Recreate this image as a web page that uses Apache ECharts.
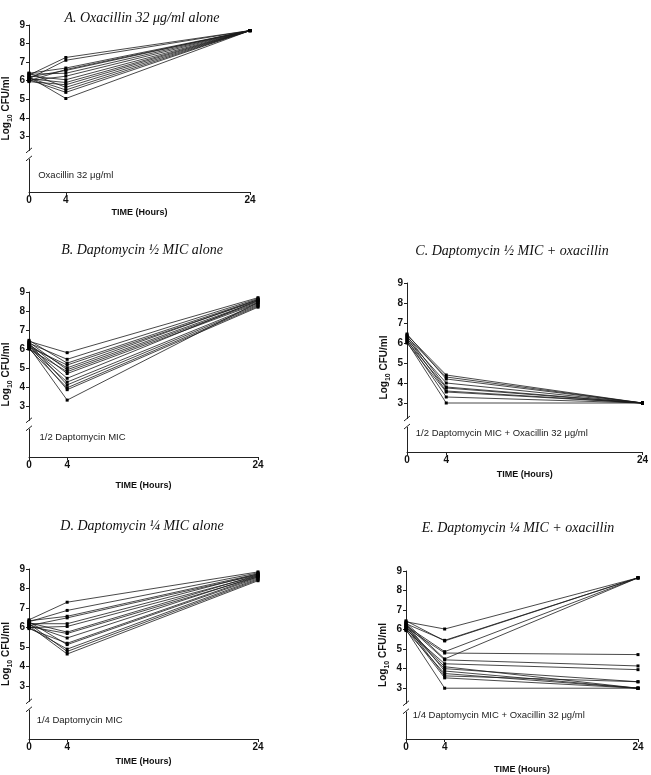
<!DOCTYPE html>
<html><head><meta charset="utf-8">
<script src="https://cdn.jsdelivr.net/npm/echarts@6/dist/echarts.min.js"></script>
<style>html,body{margin:0;padding:0;background:#fff}#c{width:651px;height:775px}</style>
</head><body><div id="c"></div>
<script>
// ---------- DATA ----------
const timesH = [0, 4, 24];
const xTickLabels = [0, 4, 24];
const yTickLabels = [3, 4, 5, 6, 7, 8, 9];
const panelTitles = [
  'A. Oxacillin 32 \u03bcg/ml alone',
  'B. Daptomycin \u00bd MIC alone',
  'C. Daptomycin \u00bd MIC + oxacillin',
  'D. Daptomycin \u00bc MIC alone',
  'E. Daptomycin \u00bc MIC + oxacillin'
];
const panelNotes = [
  'Oxacillin 32 \u03bcg/ml',
  '1/2 Daptomycin MIC',
  '1/2 Daptomycin MIC + Oxacillin 32 \u03bcg/ml',
  '1/4 Daptomycin MIC',
  '1/4 Daptomycin MIC + Oxacillin 32 \u03bcg/ml'
];
const xAxisName = 'TIME (Hours)';

// Panel A: oxacillin alone
const a_t0  = [6.30, 6.10, 6.40, 6.00, 6.20, 6.35, 6.00, 6.25, 6.10, 5.95, 6.40, 6.15, 6.05, 6.20];
const a_t4  = [7.25, 7.10, 6.68, 6.60, 6.55, 6.40, 6.24, 6.05, 5.90, 5.78, 5.64, 5.50, 5.37, 5.04];
const a_t24 = [8.70, 8.70, 8.70, 8.70, 8.70, 8.70, 8.70, 8.70, 8.70, 8.70, 8.70, 8.70, 8.70, 8.70];
// Panel B: daptomycin 1/2 MIC alone
const b_t0  = [6.40, 6.30, 6.45, 6.10, 6.20, 6.35, 6.00, 6.25, 6.15, 6.05, 6.30, 6.00, 6.20, 6.10];
const b_t4  = [5.80, 5.45, 5.25, 5.15, 5.00, 4.90, 4.80, 4.70, 4.45, 4.25, 4.10, 3.95, 3.85, 3.30];
const b_t24 = [8.70, 8.65, 8.60, 8.55, 8.60, 8.50, 8.45, 8.40, 8.55, 8.35, 8.30, 8.25, 8.20, 8.45];
// Panel C: daptomycin 1/2 MIC + oxacillin
const c_t0  = [6.40, 6.30, 6.45, 6.20, 6.35, 6.10, 6.25, 6.00, 6.15, 6.05];
const c_t4  = [4.40, 4.30, 4.20, 4.00, 3.80, 3.75, 3.60, 3.55, 3.30, 3.00];
const c_t24 = [3.00, 3.00, 3.00, 3.00, 3.00, 3.00, 3.00, 3.00, 3.00, 3.00];
// Panel D: daptomycin 1/4 MIC alone
const d_t0  = [6.40, 6.30, 6.35, 6.10, 6.20, 6.00, 6.25, 6.05, 6.15, 5.95, 6.30, 6.00, 6.20, 6.10];
const d_t4  = [7.30, 6.88, 6.58, 6.50, 6.20, 6.06, 5.77, 5.70, 5.47, 5.20, 5.13, 4.90, 4.78, 4.65];
const d_t24 = [8.85, 8.80, 8.75, 8.70, 8.75, 8.65, 8.70, 8.60, 8.65, 8.60, 8.55, 8.50, 8.45, 8.40];
// Panel E: daptomycin 1/4 MIC + oxacillin
const e_t0  = [6.40, 6.30, 6.45, 6.20, 6.35, 6.10, 6.25, 6.00, 6.15, 6.05, 6.30, 5.95, 6.20, 6.10, 6.00];
const e_t4  = [6.03, 5.45, 5.42, 4.87, 4.50, 4.80, 4.45, 4.25, 4.10, 4.00, 3.88, 3.75, 3.63, 3.53, 3.00];
const e_t24 = [8.65, 8.65, 8.65, 8.65, 8.65, 4.72, 4.14, 3.95, 3.00, 3.33, 3.00, 3.00, 3.33, 3.00, 3.00];

const panelData = [
  [a_t0, a_t4, a_t24],
  [b_t0, b_t4, b_t24],
  [c_t0, c_t4, c_t24],
  [d_t0, d_t4, d_t24],
  [e_t0, e_t4, e_t24]
];

// ---------- LAYOUT ----------
const grids = [
  {left: 29,  top: 25,  width: 221, height: 167},
  {left: 27,  top: 292, width: 231, height: 165},
  {left: 407, top: 283, width: 238, height: 169},
  {left: 29,  top: 569, width: 229, height: 170},
  {left: 406, top: 571, width: 232, height: 169}
];
const yMins = [0, 0.3, 0.55, 0.3, 0.4];
const titlePos = [[137, 6], [137, 238], [507, 239], [137, 514], [513, 516]];
const xNameGaps = [16, 24, 18, 18, 26];
const notePos = [[1.0, 0.9], [1.1, 1.35], [0.9, 1.5], [0.8, 1.25], [0.7, 1.6]];
const breakValue = 2.0;

const fontSans = 'Liberation Sans, Arial, sans-serif';

const option = {
  animation: false,
  backgroundColor: '#fff',
  title: panelTitles.map((t, i) => ({
    text: t, left: titlePos[i][0], top: titlePos[i][1], textAlign: 'center',
    textStyle: {fontFamily: 'Liberation Serif, Times New Roman, serif', fontStyle: 'italic', fontWeight: 'normal', fontSize: 14, color: '#111'}
  })),
  grid: grids.map(g => Object.assign({containLabel: false}, g)),
  xAxis: grids.map((g, i) => ({
    type: 'value', gridIndex: i, min: 0, max: 24,
    name: xAxisName, nameLocation: 'middle', nameGap: xNameGaps[i],
    nameTextStyle: {fontFamily: fontSans, fontWeight: 'bold', fontSize: 9, color: '#111'},
    axisLine: {show: true, lineStyle: {color: '#222', width: 1}},
    axisTick: {show: true, length: 3, customValues: xTickLabels, lineStyle: {color: '#222'}},
    axisLabel: {customValues: xTickLabels, margin: 3, fontFamily: fontSans, fontWeight: 'bold', fontSize: 10, color: '#111'},
    splitLine: {show: false}
  })),
  yAxis: grids.map((g, i) => ({
    type: 'value', gridIndex: i, min: yMins[i], max: 9,
    name: '{a|Log}{b|10}{a| CFU/ml}', nameLocation: 'middle', nameGap: 15, nameRotate: 90,
    nameTextStyle: {
      rich: {
        a: {fontFamily: fontSans, fontWeight: 'bold', fontSize: 10, color: '#111', lineHeight: 16, verticalAlign: 'middle'},
        b: {fontFamily: fontSans, fontWeight: 'bold', fontSize: 7, color: '#111', lineHeight: 16, verticalAlign: 'bottom'}
      }
    },
    axisLine: {show: true, lineStyle: {color: '#222', width: 1}},
    axisTick: {show: true, length: 3, customValues: yTickLabels, lineStyle: {color: '#222'}},
    axisLabel: {customValues: yTickLabels, margin: 4, fontFamily: fontSans, fontWeight: 'bold', fontSize: 10, color: '#111'},
    splitLine: {show: false}
  })),
  series: []
};

panelData.forEach((pd, i) => {
  const [t0, t4, t24] = pd;
  for (let k = 0; k < t0.length; k++) {
    option.series.push({
      type: 'line', xAxisIndex: i, yAxisIndex: i, silent: true,
      data: [[timesH[0], t0[k]], [timesH[1], t4[k]], [timesH[2], t24[k]]],
      symbol: 'rect', symbolSize: 3, showSymbol: true,
      lineStyle: {color: '#1a1a1a', width: 0.8},
      itemStyle: {color: '#000'}
    });
  }
});

const chart = echarts.init(document.getElementById('c'), null, {renderer: 'canvas'});
chart.setOption(option);

// Axis breaks and in-panel notes, positioned through the axes
const gEls = [];
grids.forEach((g, i) => {
  const p = chart.convertToPixel({gridIndex: i}, [0, breakValue]);
  gEls.push({type: 'rect', shape: {x: p[0] - 4, y: p[1] - 4, width: 8, height: 8}, style: {fill: '#fff'}, z: 100});
  gEls.push({type: 'line', shape: {x1: p[0] - 3, y1: p[1] - 2, x2: p[0] + 3, y2: p[1] - 7}, style: {stroke: '#222', lineWidth: 1}, z: 101});
  gEls.push({type: 'line', shape: {x1: p[0] - 3, y1: p[1] + 6, x2: p[0] + 3, y2: p[1] + 1}, style: {stroke: '#222', lineWidth: 1}, z: 101});
  const q = chart.convertToPixel({gridIndex: i}, notePos[i]);
  gEls.push({type: 'text', x: q[0], y: q[1], style: {text: panelNotes[i], font: '9.5px ' + fontSans, fill: '#222', verticalAlign: 'middle', align: 'left'}, z: 101});
});
chart.setOption({graphic: {elements: gEls}});
</script>
</body></html>
